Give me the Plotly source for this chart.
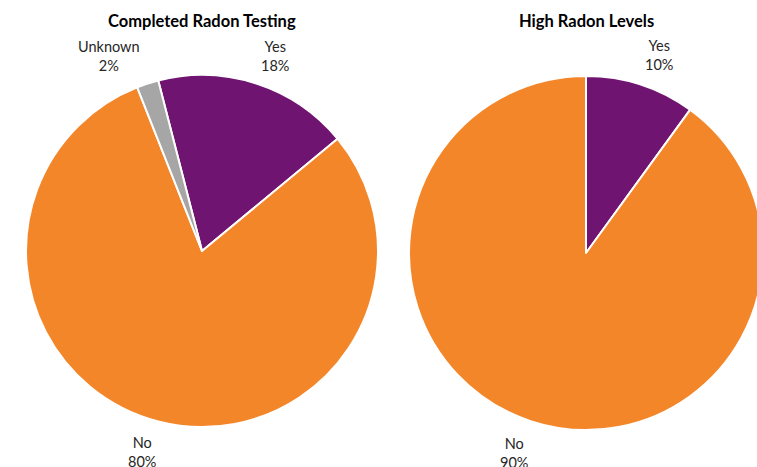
"""Radon survey pie charts"""

import plotly.graph_objects as go

# data
testing_labels = ["Yes", "No", "Unknown"]
testing_values = [18, 80, 2]
high_labels = ["Yes", "No"]
high_values = [10, 90]
titles = ["Completed Radon Testing", "High Radon Levels"]

colors = {"Yes": "#6F1470", "No": "#F4862A", "Unknown": "#A6A6A6"}

W, H = 772, 472
FONT = "Lato, 'Liberation Sans', sans-serif"


def dom(x0, x1, y0, y1):
    """픽셀 좌표를 paper 도메인으로 변환"""
    return dict(x=[x0 / W, x1 / W], y=[1 - y1 / H, 1 - y0 / H])


fig = go.Figure()

fig.add_trace(go.Pie(
    labels=testing_labels, values=testing_values,
    marker=dict(colors=[colors[l] for l in testing_labels], line=dict(color="white", width=2)),
    sort=False, direction="clockwise", rotation=-14.4, textinfo="none",
    domain=dom(26, 378, 75, 427), hoverinfo="label+percent",
))
fig.add_trace(go.Pie(
    labels=high_labels, values=high_values,
    marker=dict(colors=[colors[l] for l in high_labels], line=dict(color="white", width=2)),
    sort=False, direction="clockwise", rotation=0, textinfo="none",
    domain=dom(409, 763, 76, 430), hoverinfo="label+percent",
))

# titles
for text, cx in zip(titles, [202, 586]):
    fig.add_annotation(x=cx / W, y=1 - 21 / H, xref="paper", yref="paper",
                       xanchor="center", yanchor="middle",
                       text=f"<b>{text}</b>", showarrow=False,
                       font=dict(size=16.5, color="#000000", family=FONT))

# data labels (positions as in the original layout)
label_pos = [
    (testing_labels, testing_values, {"Yes": (275, 56), "No": (142, 452), "Unknown": (109, 56)}),
    (high_labels, high_values, {"Yes": (659, 55), "No": (514, 453)}),
]
for labels, values, pos in label_pos:
    total = sum(values)
    for lab, val in zip(labels, values):
        px, py = pos[lab]
        fig.add_annotation(x=px / W, y=1 - py / H, xref="paper", yref="paper",
                           xanchor="center", yanchor="middle",
                           text=f"{lab}<br>{round(100 * val / total)}%", showarrow=False,
                           font=dict(size=14.5, color="#262626", family=FONT))

fig.update_layout(
    width=W, height=H,
    margin=dict(l=0, r=0, t=0, b=0),
    showlegend=False,
    paper_bgcolor="white",
    plot_bgcolor="white",
)

fig.write_html(
    "out.html",
    config={"displayModeBar": False},
    post_script="document.body.style.margin='0';document.body.style.overflow='hidden';",
)
